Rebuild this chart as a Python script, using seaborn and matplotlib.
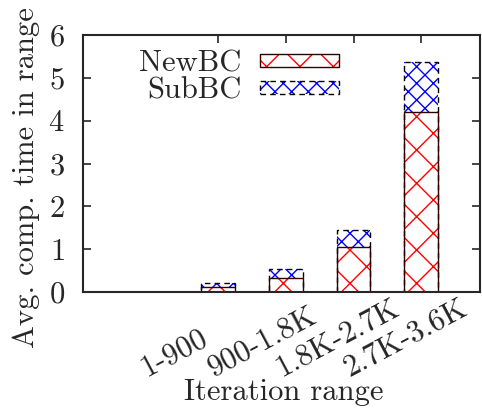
import numpy as np
import matplotlib
matplotlib.use("Agg")
import matplotlib.pyplot as plt
import matplotlib.transforms as mtransforms
import seaborn as sns
from matplotlib.patches import Patch

ranges = ["1-900", "900-1.8K", "1.8K-2.7K", "2.7K-3.6K"]
newbc = [0.12, 0.34, 1.06, 4.21]
subbc = [0.09, 0.20, 0.40, 1.16]
yticks = [0, 1, 2, 3, 4, 5, 6]

sns.set_style("ticks")
plt.rcParams['font.family'] = ['cmr10', 'DejaVu Serif']
plt.rcParams['axes.formatter.use_mathtext'] = True
plt.rcParams['hatch.linewidth'] = 1.0
fs = 22

total = [a + b for a, b in zip(newbc, subbc)]

fig = plt.figure(figsize=(4.82, 4.08), dpi=100)
ax = fig.add_axes([0.172, 0.284, 0.824, 0.630])

def styled(call, **props):
    # run a seaborn barplot and force the look of the bars it added
    before = len(ax.patches)
    call()
    for p in ax.patches[before:]:
        p.set(**props)

# SubBC layer (full height, later covered by NewBC at the bottom)
styled(lambda: sns.barplot(x=ranges, y=total, order=ranges, width=0.5, ax=ax),
       facecolor="white", edgecolor="blue", hatch="xx", linewidth=0)
# NewBC layer
styled(lambda: sns.barplot(x=ranges, y=newbc, order=ranges, width=0.5, ax=ax),
       facecolor="white", edgecolor="red", hatch="x", linewidth=0)
# outlines
styled(lambda: sns.barplot(x=ranges, y=total, order=ranges, width=0.5, ax=ax),
       facecolor="none", edgecolor="black", hatch=None, linewidth=1.0, linestyle=(0, (4, 3)))
styled(lambda: sns.barplot(x=ranges, y=newbc, order=ranges, width=0.5, ax=ax),
       facecolor="none", edgecolor="#300000", hatch=None, linewidth=1.0)

ax.set_xlim(-2, 3.87)
ax.set_ylim(0, 6)
ax.set_yticks(yticks)
ax.set_xticks(range(len(ranges)))
ax.set_xticklabels(ranges, rotation=28, ha="left", va="baseline", rotation_mode="anchor")
ax.tick_params(direction="in", length=6, width=1.2, top=True, right=True, labelsize=fs)
ax.tick_params(axis="y", pad=13)
ax.tick_params(axis="x", pad=61)
shift = mtransforms.ScaledTranslation(-72 / 100, 0, fig.dpi_scale_trans)
for lab in ax.get_xticklabels():
    lab.set_transform(lab.get_transform() + shift)
for s in ax.spines.values():
    s.set_linewidth(1.5)
    s.set_visible(True)
ax.set_xlabel("Iteration range", fontsize=fs)
ax.xaxis.set_label_coords(0.506, -0.335)
ax.set_ylabel("Avg. comp. time in range", fontsize=fs)
ax.yaxis.set_label_coords(-0.108, 0.445)

h_new = (Patch(facecolor="white", edgecolor="red", hatch="x", linewidth=0),
         Patch(facecolor="none", edgecolor="#300000", linewidth=1.0))
h_sub = (Patch(facecolor="white", edgecolor="blue", hatch="xx", linewidth=0),
         Patch(facecolor="none", edgecolor="black", linewidth=1.0, linestyle=(0, (4, 3))))
ax.legend([h_new, h_sub], ["NewBC", "SubBC"], loc="upper left", bbox_to_anchor=(0.11, 0.99),
          markerfirst=False, frameon=False, fontsize=fs, handlelength=2.6, handleheight=0.3,
          handletextpad=0.6, labelspacing=0.0, borderaxespad=0)

fig.savefig("out.png", dpi=100)
